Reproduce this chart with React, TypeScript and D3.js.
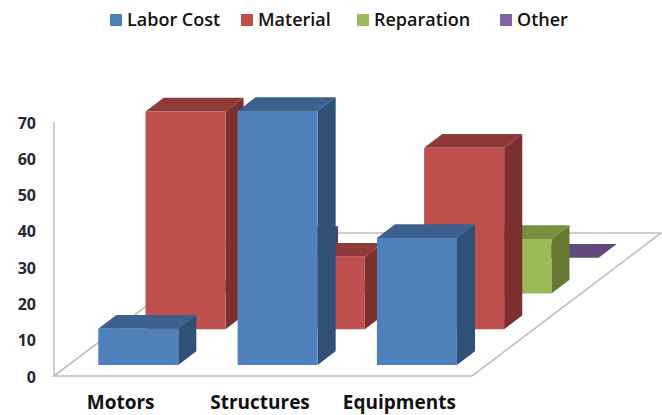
import React, { useEffect, useRef } from 'react';
import * as d3 from 'd3';

const categories = ['Motors', 'Structures', 'Equipments'];
const seriesNames = ['Labor Cost', 'Material', 'Reparation', 'Other'];
const laborCost = [10, 70, 35];
const material = [60, 20, 50];
const reparation = [0, 0, 15];
const other = [5, 0, 0];
const yTicks = [0, 10, 20, 30, 40, 50, 60, 70];

const seriesValues = [laborCost, material, reparation, other];
const legendX = [110, 241, 357, 500];
const faces = [
  { front: '#4F81BD', top: '#3C618F', side: '#2F5178' },
  { front: '#C0504D', top: '#8E3A38', side: '#7C302E' },
  { front: '#9BBB59', top: '#76923F', side: '#65792F' },
  { front: '#8064A2', top: '#5F4A7A', side: '#523F6A' },
];
const fontFamily = '"Open Sans", "Noto Sans", sans-serif';

const App = () => {
  const svgRef = useRef<SVGSVGElement>(null);

  useEffect(() => {
    const svg = d3.select(svgRef.current);
    svg.selectAll('*').remove();

    // floor box of the 3D plot
    const x = d3.scaleBand<string>()
      .domain(categories)
      .range([54, 472])
      .paddingInner(0.426)
      .paddingOuter(0.213);
    const y = d3.scaleLinear().domain([0, 70]).range([376, 122]);
    const z = d3.scaleBand<string>()
      .domain(seriesNames)
      .range([0, 189])
      .paddingInner(0.617)
      .paddingOuter(0.3085);
    const depthSlope = 143 / 189;

    // screen position of a point given x, depth along the floor and value
    const project = (px: number, depth: number, value: number): [number, number] => [
      px + depth,
      y(value) - depth * depthSlope,
    ];
    const line = d3.line();

    const floorLeft = x.range()[0];
    const floorRight = x.range()[1];
    const floorDepth = z.range()[1];

    svg.append('path')
      .attr('d', line([
        project(floorLeft, 0, 0),
        project(floorLeft, floorDepth, 0),
        project(floorRight, floorDepth, 0),
        project(floorRight, 0, 0),
      ])! + 'Z')
      .attr('fill', '#fff')
      .attr('stroke', '#BFBFBF')
      .attr('stroke-width', 1.6);

    svg.append('path')
      .attr('d', line([project(floorLeft, 0, 70), project(floorLeft, 0, 0)]))
      .attr('fill', 'none')
      .attr('stroke', '#BFBFBF')
      .attr('stroke-width', 1.6);

    // back row first so the front rows cover it
    for (let s = seriesNames.length - 1; s >= 0; s--) {
      const z0 = z(seriesNames[s])!;
      const z1 = z0 + z.bandwidth();
      categories.forEach((cat, c) => {
        const v = seriesValues[s][c];
        const x0 = x(cat)!;
        const x1 = x0 + x.bandwidth();
        const g = svg.append('g');
        if (v > 0) {
          g.append('path')
            .attr('d', line([project(x1, z0, 0), project(x1, z1, 0), project(x1, z1, v), project(x1, z0, v)])! + 'Z')
            .attr('fill', faces[s].side);
        }
        g.append('path')
          .attr('d', line([project(x0, z0, v), project(x1, z0, v), project(x1, z1, v), project(x0, z1, v)])! + 'Z')
          .attr('fill', faces[s].top);
        if (v > 0) {
          g.append('path')
            .attr('d', line([project(x0, z0, 0), project(x1, z0, 0), project(x1, z0, v), project(x0, z0, v)])! + 'Z')
            .attr('fill', faces[s].front);
        }
      });
    }

    // value axis
    const yAxis = svg.append('g')
      .attr('transform', 'translate(36,1)')
      .call(d3.axisLeft(y).tickValues(yTicks).tickSize(0).tickPadding(0));
    yAxis.select('.domain').remove();
    yAxis.selectAll('text')
      .style('font-family', fontFamily)
      .style('font-size', '16px')
      .style('font-weight', 700)
      .style('fill', '#1F2A36');

    // category labels
    svg.selectAll('.cat-label')
      .data(categories)
      .enter()
      .append('text')
      .attr('class', 'cat-label')
      .attr('x', d => x(d)! + x.bandwidth() / 2 - 3)
      .attr('y', 409)
      .attr('text-anchor', 'middle')
      .style('font-family', fontFamily)
      .style('font-size', '19px')
      .style('font-weight', 700)
      .style('fill', '#111')
      .text(d => d);

    // legend
    const legend = svg.selectAll('.legend-item')
      .data(seriesNames)
      .enter()
      .append('g')
      .attr('class', 'legend-item')
      .attr('transform', (_, i) => `translate(${legendX[i]},14)`);
    legend.append('rect')
      .attr('width', 12)
      .attr('height', 12)
      .attr('fill', (_, i) => faces[i].front);
    legend.append('text')
      .attr('x', 17)
      .attr('y', 12)
      .style('font-family', fontFamily)
      .style('font-size', '18px')
      .style('font-weight', 600)
      .style('fill', '#111')
      .text(d => d);
  }, []);

  return (
    <svg
      ref={svgRef}
      width={662}
      height={415}
      style={{ position: 'absolute', left: 0, top: 0, background: '#fff' }}
    />
  );
};

export default App;
